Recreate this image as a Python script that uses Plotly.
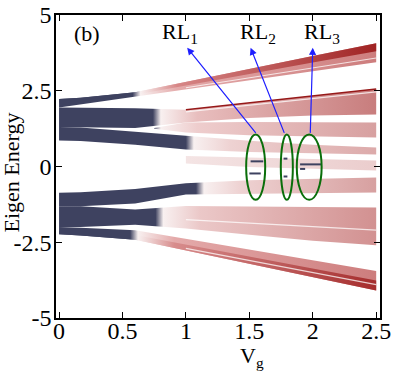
import plotly.graph_objects as go

# Vg grid used for the band edges
vg = [0, 0.17, 0.6, 1.0, 1.5, 2.0, 2.5]

# upper half of the spectrum (band edges)
u1_hi = [2.23, 2.27, 2.45, 2.80, 3.23, 3.65, 4.07]
u1_core = [2.10, 2.15, 2.37, 2.68, 3.05, 3.43, 3.80]
u1_lo = [1.95, 2.03, 2.29, 2.53, 2.84, 3.14, 3.44]
u2_hi = [1.95, 1.94, 1.92, 1.87, 2.10, 2.33, 2.56]
u2_lo = [1.30, 1.29, 1.27, 1.45, 1.60, 1.68, 1.72]
u2b_vg = [0.75, 1.0, 1.5, 2.0, 2.5]
u2b_hi = [1.27, 1.45, 1.47, 1.46, 1.45]
u2b_lo = [1.25, 1.12, 1.03, 0.99, 0.96]
u3_hi = [1.30, 1.29, 1.15, 1.02, 0.85, 0.72, 0.63]
u3_lo = [0.86, 0.84, 0.72, 0.56, 0.48, 0.44, 0.40]
u4_vg = [1.0, 1.5, 2.0, 2.5]
u4_hi = [0.35, 0.30, 0.25, 0.20]
u4_lo = [0.10, -0.02, -0.08, -0.13]

# lower half
l1_hi = [-2.00, -2.02, -2.10, -2.38, -2.74, -3.09, -3.45]
l1_core = [-2.12, -2.15, -2.26, -2.58, -2.98, -3.37, -3.76]
l1_lo = [-2.24, -2.28, -2.42, -2.77, -3.21, -3.65, -4.09]
l2_hi = [-1.31, -1.31, -1.42, -1.30, -1.32, -1.34, -1.35]
l2_lo = [-2.00, -2.00, -1.92, -2.05, -2.25, -2.45, -2.60]
l3_hi = [-0.87, -0.85, -0.74, -0.55, -0.45, -0.40, -0.36]
l3_lo = [-1.31, -1.31, -1.22, -0.92, -0.90, -0.88, -0.86]

# light gaps running through the bands (Vg 1 -> 2.5)
streak_vg = [1.0, 2.5]
streak_e = [[2.60, 3.58], [1.80, 2.46], [-1.75, -2.10], [-2.70, -3.90]]

# resonant levels (RL) inside the green ellipses
rl_names = ["RL<sub>1</sub>", "RL<sub>2</sub>", "RL<sub>3</sub>"]
rl_vg_lo = [1.475, 1.748, 1.874]
rl_vg_hi = [1.625, 1.843, 2.07]
rl_e_lo, rl_e_hi = -1.1, 1.06
rl_label_vg = [0.95, 1.57, 2.07]
rl_tip_vg = [1.01, 1.51, 2.0]
rl_tail_vg = [1.56, 1.78, 1.98]
dash_vg0 = [1.51, 1.50, 1.77, 1.77, 1.90, 1.90]
dash_vg1 = [1.61, 1.59, 1.80, 1.80, 2.07, 1.94]
dash_e = [0.17, -0.23, 0.26, -0.33, 0.07, -0.08]

x_ticks = [0, 0.5, 1, 1.5, 2, 2.5]
x_labels = ["0", "0.5", "1", "1.5", "2", "2.5"]
y_ticks = [5, 2.5, 0, -2.5, -5]
y_labels = ["5", "2.5", "0", "-2.5", "-5"]

SLATE = "rgb(62,66,96)"
FONT = "Liberation Serif, Times New Roman, serif"


def band_scale(dark_end, pink, end):
    if dark_end is None:
        return [[0, "rgb(250,244,244)"], [1, end]]
    d = dark_end / 2.5
    return [[0, SLATE], [d, SLATE], [d + 0.025, "rgb(248,240,240)"],
            [d + 0.14, pink], [1, end]]


def add_band(fig, xs, hi, lo, scale):
    fig.add_trace(go.Scatter(
        x=list(xs) + list(xs)[::-1],
        y=list(hi) + list(lo)[::-1],
        mode="lines", fill="toself", line=dict(width=0),
        fillgradient=dict(type="horizontal", colorscale=scale, start=0, stop=2.5),
        hoverinfo="skip", showlegend=False,
    ))


fig = go.Figure()

add_band(fig, vg, u1_hi, u1_lo, band_scale(0.58, "rgb(228,170,170)", "rgb(205,125,125)"))
add_band(fig, vg, u1_hi, u1_core, band_scale(0.58, "rgb(215,135,135)", "rgb(160,35,35)"))
add_band(fig, vg, u2_hi, u2_lo, band_scale(0.74, "rgb(232,190,190)", "rgb(200,125,125)"))
add_band(fig, u2b_vg, u2b_hi, u2b_lo, band_scale(0.74, "rgb(238,205,205)", "rgb(215,160,160)"))
add_band(fig, vg, u3_hi, u3_lo, band_scale(1.0, "rgb(238,210,210)", "rgb(220,170,170)"))
add_band(fig, u4_vg, u4_hi, u4_lo, band_scale(None, None, "rgb(235,205,205)"))

add_band(fig, vg, l1_hi, l1_lo, band_scale(0.56, "rgb(228,170,170)", "rgb(205,125,125)"))
add_band(fig, vg, l1_core, l1_lo, band_scale(0.56, "rgb(215,140,140)", "rgb(165,45,45)"))
add_band(fig, vg, l2_hi, l2_lo, band_scale(0.76, "rgb(235,200,200)", "rgb(210,145,145)"))
add_band(fig, vg, l3_hi, l3_lo, band_scale(1.08, "rgb(238,210,210)", "rgb(215,160,160)"))

for s in streak_e:
    fig.add_trace(go.Scatter(x=streak_vg, y=s, mode="lines",
                             line=dict(color="rgba(255,255,255,0.75)", width=1.2),
                             hoverinfo="skip", showlegend=False))

# dark red edge line on top of the second band
fig.add_trace(go.Scatter(x=vg[3:], y=u2_hi[3:], mode="lines",
                         line=dict(color="rgb(150,25,25)", width=1.5),
                         hoverinfo="skip", showlegend=False))

# resonant level dashes
for a, b, e in zip(dash_vg0, dash_vg1, dash_e):
    fig.add_trace(go.Scatter(x=[a, b], y=[e, e], mode="lines",
                             line=dict(color=SLATE, width=2),
                             hoverinfo="skip", showlegend=False))

for i in range(3):
    fig.add_shape(type="circle", xref="x", yref="y",
                  x0=rl_vg_lo[i], x1=rl_vg_hi[i], y0=rl_e_lo, y1=rl_e_hi,
                  line=dict(color="rgb(10,110,10)", width=2))
    fig.add_annotation(x=rl_tip_vg[i], y=3.92, ax=rl_tail_vg[i], ay=rl_e_hi,
                       xref="x", yref="y", axref="x", ayref="y", text="",
                       showarrow=True, arrowhead=2, arrowsize=1.2, arrowwidth=1.2,
                       arrowcolor="rgb(30,30,255)")
    fig.add_annotation(x=rl_label_vg[i], y=4.39, xref="x", yref="y",
                       text=rl_names[i], showarrow=False,
                       font=dict(size=22, family=FONT, color="black"))

fig.add_annotation(x=0.22, y=4.39, xref="x", yref="y", text="(b)", showarrow=False,
                   font=dict(size=22, family=FONT, color="black"))
fig.add_annotation(x=1.52, y=-0.13, xref="x", yref="paper", text="V<sub>g</sub>",
                   showarrow=False, yanchor="middle",
                   font=dict(size=22, family=FONT, color="black"))
fig.add_annotation(x=-0.136, y=0.48, xref="paper", yref="paper", text="Eigen Energy",
                   textangle=-90, showarrow=False, xanchor="center", yanchor="middle",
                   font=dict(size=22, family=FONT, color="black"))

axis_style = dict(showline=True, linecolor="black", linewidth=1.5, mirror="ticks",
                  ticks="inside", ticklen=6, tickwidth=1, tickcolor="black",
                  showgrid=False, zeroline=False, automargin=False,
                  ticklabeloverflow="allow",
                  tickfont=dict(size=24, family=FONT, color="black"))

fig.update_layout(
    width=399, height=375,
    margin=dict(l=56, r=19, t=15, b=57),
    plot_bgcolor="white", paper_bgcolor="white",
    showlegend=False,
    xaxis=dict(range=[-0.024, 2.53], tickvals=x_ticks, ticktext=x_labels,
               ticklabelstandoff=-10, **axis_style),
    yaxis=dict(range=[-5, 5], tickvals=y_ticks, ticktext=y_labels,
               ticklabelstandoff=-2, **axis_style),
)

# drop the default 8px page margin so the figure fills the window
fig.write_html("out.html", config={"displayModeBar": False},
               post_script="document.body.style.margin='0';")
